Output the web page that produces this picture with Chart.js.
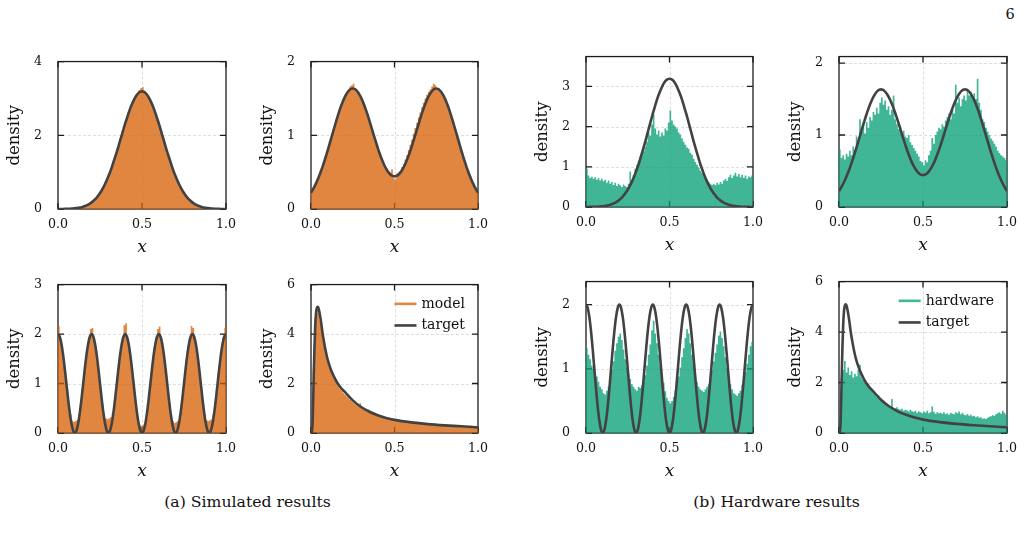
<!DOCTYPE html>
<html><head><meta charset="utf-8">
<script src="https://cdn.jsdelivr.net/npm/chart.js@4/dist/chart.umd.min.js"></script>
<style>
html,body{margin:0;padding:0;background:#fff;}
body{width:1026px;height:535px;position:relative;overflow:hidden;font-family:"DejaVu Serif",serif;color:#111;}
canvas{position:absolute;}
.cap{position:absolute;font-size:15.7px;transform:translate(-50%,-50%);white-space:nowrap;}
</style></head><body>
<div class="cap" style="left:247.5px;top:501px">(a) Simulated results</div>
<div class="cap" style="left:776.5px;top:501px">(b) Hardware results</div>
<div class="cap" style="left:1010px;top:14px;font-size:14.5px">6</div>
<script>
// ---------- data ----------
const xGrid = [0,0.01,0.02,0.03,0.04,0.05,0.06,0.07,0.08,0.09,0.1,0.11,0.12,0.13,0.14,0.15,0.16,0.17,0.18,0.19,0.2,0.21,0.22,0.23,0.24,0.25,0.26,0.27,0.28,0.29,0.3,0.31,0.32,0.33,0.34,0.35,0.36,0.37,0.38,0.39,0.4,0.41,0.42,0.43,0.44,0.45,0.46,0.47,0.48,0.49,0.5,0.51,0.52,0.53,0.54,0.55,0.56,0.57,0.58,0.59,0.6,0.61,0.62,0.63,0.64,0.65,0.66,0.67,0.68,0.69,0.7,0.71,0.72,0.73,0.74,0.75,0.76,0.77,0.78,0.79,0.8,0.81,0.82,0.83,0.84,0.85,0.86,0.87,0.88,0.89,0.9,0.91,0.92,0.93,0.94,0.95,0.96,0.97,0.98,0.99,1];

const gaussTarget = [0.001,0.001,0.002,0.002,0.003,0.005,0.006,0.008,0.011,0.015,0.019,0.025,0.031,0.040,0.050,0.063,0.079,0.098,0.120,0.147,0.179,0.216,0.260,0.310,0.367,0.432,0.505,0.587,0.678,0.778,0.887,1.00,1.13,1.27,1.41,1.55,1.70,1.86,2.01,2.17,2.32,2.46,2.60,2.73,2.84,2.94,3.03,3.10,3.15,3.18,3.19,3.18,3.15,3.10,3.03,2.94,2.84,2.73,2.60,2.46,2.32,2.17,2.01,1.86,1.70,1.55,1.41,1.27,1.13,1.00,0.887,0.778,0.678,0.587,0.505,0.432,0.367,0.310,0.260,0.216,0.179,0.147,0.120,0.098,0.079,0.063,0.050,0.040,0.031,0.025,0.019,0.015,0.011,0.008,0.006,0.005,0.003,0.002,0.002,0.001,0.001];

const bimodalTarget = [0.221,0.259,0.301,0.347,0.399,0.454,0.515,0.579,0.648,0.720,0.795,0.873,0.951,1.031,1.109,1.186,1.261,1.331,1.397,1.456,1.508,1.552,1.588,1.613,1.629,1.634,1.629,1.613,1.588,1.552,1.510,1.459,1.401,1.337,1.269,1.196,1.122,1.047,0.971,0.899,0.827,0.760,0.698,0.641,0.590,0.546,0.510,0.480,0.459,0.447,0.442,0.447,0.459,0.480,0.510,0.546,0.590,0.641,0.698,0.760,0.827,0.899,0.971,1.047,1.122,1.196,1.269,1.337,1.401,1.459,1.510,1.552,1.588,1.613,1.629,1.634,1.629,1.613,1.588,1.552,1.508,1.456,1.397,1.331,1.261,1.186,1.109,1.031,0.951,0.873,0.795,0.720,0.648,0.579,0.515,0.454,0.399,0.347,0.301,0.259,0.221];

const cosineTarget = [2,1.951,1.809,1.588,1.309,1,0.691,0.412,0.191,0.049,0,0.049,0.191,0.412,0.691,1,1.309,1.588,1.809,1.951,
2,1.951,1.809,1.588,1.309,1,0.691,0.412,0.191,0.049,0,0.049,0.191,0.412,0.691,1,1.309,1.588,1.809,1.951,
2,1.951,1.809,1.588,1.309,1,0.691,0.412,0.191,0.049,0,0.049,0.191,0.412,0.691,1,1.309,1.588,1.809,1.951,
2,1.951,1.809,1.588,1.309,1,0.691,0.412,0.191,0.049,0,0.049,0.191,0.412,0.691,1,1.309,1.588,1.809,1.951,
2,1.951,1.809,1.588,1.309,1,0.691,0.412,0.191,0.049,0,0.049,0.191,0.412,0.691,1,1.309,1.588,1.809,1.951,2];

const skewX = [0,0.005,0.01,0.015,0.02,0.025,0.03,0.035,0.04,0.045,0.05,0.06,0.07,0.08,0.09,0.10,0.12,0.14,0.16,0.18,0.20,0.25,0.30,0.35,0.40,0.45,0.50,0.60,0.70,0.80,0.90,1.00];
const skewTarget = [0,0.05,0.5,1.9,3.3,4.3,4.85,5.05,5.1,5.05,4.9,4.5,4.0,3.6,3.25,2.96,2.55,2.25,2.0,1.82,1.68,1.32,1.05,0.86,0.72,0.61,0.53,0.43,0.36,0.31,0.27,0.225];

const modelGauss = [0.00,0.00,0.00,0.00,0.00,0.01,0.01,0.01,0.01,0.02,
0.02,0.03,0.04,0.04,0.06,0.07,0.09,0.11,0.13,0.16,
0.20,0.24,0.29,0.34,0.40,0.47,0.55,0.63,0.73,0.83,
0.94,1.07,1.20,1.34,1.48,1.63,1.78,1.94,2.09,2.25,
2.38,2.53,2.66,2.80,2.88,3.00,3.05,3.15,3.22,3.28,
3.30,3.20,3.16,3.08,2.99,2.90,2.78,2.66,2.52,2.40,
2.24,2.10,1.94,1.78,1.63,1.48,1.34,1.20,1.07,0.94,
0.83,0.73,0.63,0.55,0.47,0.40,0.34,0.29,0.24,0.20,
0.16,0.13,0.11,0.09,0.07,0.06,0.04,0.04,0.03,0.02,
0.02,0.01,0.01,0.01,0.01,0.00,0.00,0.00,0.00,0.00];

const modelBimodal = [0.25,0.29,0.33,0.38,0.43,0.49,0.55,0.62,0.69,0.76,
0.84,0.92,1.00,1.08,1.16,1.23,1.30,1.37,1.43,1.49,
1.54,1.58,1.62,1.66,1.68,1.70,1.64,1.62,1.58,1.55,
1.50,1.44,1.38,1.31,1.24,1.17,1.09,1.01,0.94,0.87,
0.80,0.74,0.68,0.63,0.58,0.55,0.52,0.50,0.54,0.42,
0.40,0.48,0.50,0.52,0.57,0.61,0.67,0.73,0.80,0.87,
0.94,1.02,1.10,1.17,1.24,1.31,1.38,1.44,1.50,1.55,
1.59,1.62,1.66,1.70,1.68,1.64,1.63,1.60,1.56,1.52,
1.48,1.42,1.36,1.29,1.22,1.15,1.07,0.99,0.91,0.84,
0.76,0.69,0.62,0.56,0.50,0.44,0.39,0.34,0.30,0.26];

const modelCosine = [2.15,1.92,1.72,1.46,1.16,0.87,0.60,0.38,0.25,0.22,0.24,0.27,0.38,0.60,0.88,1.16,1.46,1.72,1.94,2.10,
2.12,1.93,1.70,1.44,1.15,0.86,0.60,0.40,0.30,0.28,0.30,0.32,0.40,0.58,0.86,1.16,1.45,1.70,1.92,2.18,
2.22,1.90,1.70,1.45,1.15,0.84,0.56,0.32,0.17,0.14,0.15,0.18,0.30,0.55,0.84,1.15,1.46,1.72,1.93,2.10,
2.15,1.92,1.71,1.45,1.16,0.86,0.58,0.36,0.24,0.20,0.22,0.25,0.36,0.58,0.86,1.16,1.46,1.72,1.92,2.16,
2.12,1.90,1.70,1.45,1.16,0.86,0.58,0.37,0.26,0.24,0.26,0.28,0.38,0.60,0.88,1.17,1.47,1.73,1.94,2.12];

const modelSkew = [0.30,2.60,4.50,4.95,4.85,4.55,4.15,3.80,3.45,3.15,
2.88,2.66,2.48,2.30,2.15,2.02,1.90,1.79,1.70,1.62,
1.55,1.48,1.40,1.33,1.28,1.22,1.16,1.12,1.08,1.20,
1.02,0.98,0.95,0.92,0.95,0.86,0.84,0.80,0.77,0.74,
0.72,0.70,0.72,0.66,0.64,0.62,0.60,0.58,0.57,0.55,
0.54,0.53,0.52,0.50,0.49,0.48,0.47,0.46,0.45,0.44,
0.43,0.42,0.41,0.41,0.40,0.39,0.38,0.40,0.37,0.39,
0.36,0.37,0.35,0.34,0.36,0.33,0.33,0.32,0.32,0.31,
0.31,0.30,0.30,0.29,0.30,0.28,0.28,0.27,0.28,0.27,
0.26,0.26,0.28,0.25,0.25,0.30,0.24,0.26,0.28,0.30];

const hwGauss = [0.95,0.78,0.72,0.75,0.70,0.74,0.68,0.72,0.66,0.70,
0.64,0.68,0.60,0.66,0.58,0.62,0.55,0.60,0.52,0.58,
0.54,0.50,0.56,0.52,0.50,0.58,0.88,0.62,0.80,0.95,
1.05,1.15,1.25,1.30,1.38,1.50,1.62,1.85,1.78,2.05,
2.30,1.95,1.80,1.90,1.75,1.85,1.78,1.95,1.90,2.10,
2.40,2.15,2.05,2.00,1.95,1.85,1.80,1.70,1.62,1.55,
1.48,1.45,1.35,1.30,1.20,1.12,1.05,0.98,0.90,0.85,
0.80,0.72,0.68,0.62,0.58,0.55,0.58,0.54,0.60,0.56,
0.62,0.58,0.66,0.70,0.65,0.74,0.80,0.72,0.78,0.85,
0.76,0.82,0.74,0.80,0.72,0.78,0.70,0.76,0.74,0.78];

const hwBimodal = [0.80,0.68,0.72,0.66,0.74,0.70,0.78,0.72,0.84,0.80,
0.98,0.92,1.22,1.05,1.15,1.02,1.18,1.10,1.25,1.20,
1.32,1.28,1.38,1.30,1.45,1.52,1.42,1.48,1.35,1.40,
1.28,1.35,1.55,1.22,1.15,1.08,1.12,1.02,1.06,0.98,
0.96,1.00,0.90,0.86,0.82,0.78,0.74,0.70,0.64,0.62,
0.58,0.65,0.62,0.72,0.78,0.96,0.88,1.00,1.05,1.10,
1.08,1.15,1.12,1.20,1.25,1.30,1.22,1.35,1.30,1.70,
1.45,1.52,1.40,1.50,1.55,1.48,1.62,1.55,1.60,1.52,
1.58,1.50,1.78,1.45,1.35,1.22,1.18,1.10,1.05,1.00,
0.95,0.92,0.88,0.84,0.78,0.75,0.72,0.70,0.68,0.65];

const hwCosine = [1.32,1.22,1.15,1.05,1.00,0.95,0.88,0.80,0.72,0.68,
0.62,0.60,0.66,0.72,0.85,0.98,1.12,1.28,1.40,1.50,
1.55,1.45,1.30,1.15,1.02,0.92,0.84,0.76,0.72,0.68,
0.66,0.72,0.70,0.74,0.80,0.90,1.05,1.22,1.38,1.60,
1.75,1.55,1.40,1.22,1.05,0.92,0.78,0.65,0.55,0.50,
0.46,0.50,0.56,0.66,0.78,0.88,1.02,1.18,1.32,1.48,
1.62,1.55,1.40,1.22,1.05,0.92,0.80,0.72,0.68,0.66,
0.64,0.68,0.72,0.76,0.85,0.98,1.12,1.25,1.38,1.52,
1.58,1.48,1.35,1.18,1.02,0.88,0.76,0.68,0.62,0.60,
0.58,0.62,0.66,0.75,0.85,0.95,1.08,1.22,1.35,1.42];

const hwSkew = [0.60,2.20,2.50,2.85,2.40,2.60,2.30,2.45,2.20,2.35,
2.25,2.50,2.70,2.20,2.10,2.00,1.90,1.95,1.75,1.70,
1.60,1.55,1.45,1.50,1.38,1.30,1.28,1.20,1.15,1.10,
1.05,1.35,1.00,0.98,1.02,0.95,0.92,0.96,0.88,0.92,
0.90,0.85,0.92,0.86,0.84,0.88,0.80,0.86,0.82,0.78,
0.85,0.80,0.88,0.78,0.82,1.05,0.84,0.76,0.82,0.78,
0.80,0.76,0.82,0.74,0.78,0.72,0.80,0.76,0.74,0.82,
0.78,0.85,0.74,0.80,0.72,0.70,0.75,0.68,0.72,0.66,
0.68,0.62,0.66,0.60,0.62,0.56,0.58,0.55,0.60,0.64,
0.66,0.70,0.68,0.74,0.78,0.82,0.76,0.88,0.80,0.72];

const xTickLabels = ['0.0','0.5','1.0'];

// ---------- styling ----------
const FONT = 'DejaVu Serif';
const ORANGE = 'rgba(213,94,0,0.75)';
const GREEN = 'rgba(2,158,115,0.75)';
const LINE = '#424242';

const framePlugin = {
  id: 'frame',
  beforeDatasetsDraw(chart) {
    const {ctx, chartArea: a, scales: {x, y}} = chart;
    ctx.save();
    ctx.strokeStyle = '#d6d6d6'; ctx.lineWidth = 0.8; ctx.setLineDash([3, 2]);
    x.ticks.forEach(t => {
      if (t.value > x.min + 1e-9 && t.value < x.max - 1e-9) {
        const px = Math.round(x.getPixelForValue(t.value)) + 0.5;
        ctx.beginPath(); ctx.moveTo(px, a.top); ctx.lineTo(px, a.bottom); ctx.stroke();
      }
    });
    y.ticks.forEach(t => {
      if (t.value > y.min + 1e-9 && t.value < y.max - 1e-9) {
        const py = Math.round(y.getPixelForValue(t.value)) + 0.5;
        ctx.beginPath(); ctx.moveTo(a.left, py); ctx.lineTo(a.right, py); ctx.stroke();
      }
    });
    ctx.setLineDash([]);
    ctx.strokeStyle = '#1c1c1c'; ctx.lineWidth = 1.3;
    ctx.strokeRect(a.left, a.top, a.width, a.height);
    const L = 6;
    ctx.beginPath();
    x.ticks.forEach(t => {
      const px = x.getPixelForValue(t.value);
      ctx.moveTo(px, a.bottom); ctx.lineTo(px, a.bottom - L);
      ctx.moveTo(px, a.top); ctx.lineTo(px, a.top + L);
    });
    y.ticks.forEach(t => {
      const py = y.getPixelForValue(t.value);
      ctx.moveTo(a.left, py); ctx.lineTo(a.left + L, py);
      ctx.moveTo(a.right, py); ctx.lineTo(a.right - L, py);
    });
    ctx.stroke();
    ctx.restore();
  }
};

const innerLegend = {
  id: 'innerLegend',
  afterDatasetsDraw(chart, args, opts) {
    if (!opts || !opts.show) return;
    const {ctx, chartArea: a} = chart;
    const ds = chart.data.datasets;
    const items = [ {text: ds[1].label, color: ds[1].backgroundColor}, {text: ds[0].label, color: ds[0].borderColor} ];
    ctx.save();
    ctx.font = '14px "' + FONT + '"';
    const tw = Math.max(...items.map(it => ctx.measureText(it.text).width));
    const tx = a.right - 13 - tw;
    items.forEach((it, k) => {
      const yy = a.top + 19.3 + k * 21.6;
      ctx.strokeStyle = it.color; ctx.lineWidth = 2.6;
      ctx.beginPath(); ctx.moveTo(tx - 27, yy); ctx.lineTo(tx - 5, yy); ctx.stroke();
      ctx.fillStyle = '#111'; ctx.textBaseline = 'middle'; ctx.textAlign = 'left';
      ctx.fillText(it.text, tx, yy);
    });
    ctx.restore();
  }
};

function histPoints(vals) {
  const pts = vals.map((v, i) => ({x: xGrid[i], y: v}));
  pts.push({x: xGrid[vals.length], y: vals[vals.length - 1]});
  return pts;
}
function linePoints(xs, ys) { return ys.map((v, i) => ({x: xs[i], y: v})); }

const panels = [
  {box:[58,60,168,149],  hist:modelGauss,   histLabel:'model',    color:ORANGE, tx:xGrid, ty:gaussTarget,   ymax:4,    step:2, legend:false},
  {box:[311,60,167,149], hist:modelBimodal, histLabel:'model',    color:ORANGE, tx:xGrid, ty:bimodalTarget, ymax:2,    step:1, legend:false},
  {box:[586,55,167,152], hist:hwGauss,      histLabel:'hardware', color:GREEN,  tx:xGrid, ty:gaussTarget,   ymax:3.74, step:1, legend:false},
  {box:[839,55,168,152], hist:hwBimodal,    histLabel:'hardware', color:GREEN,  tx:xGrid, ty:bimodalTarget, ymax:2.09, step:1, legend:false},
  {box:[58,283,168,150], hist:modelCosine,  histLabel:'model',    color:ORANGE, tx:xGrid, ty:cosineTarget,  ymax:3,    step:1, legend:false},
  {box:[311,283,167,150],hist:modelSkew,    histLabel:'model',    color:ORANGE, tx:skewX, ty:skewTarget,    ymax:6,    step:2, legend:true},
  {box:[586,280,167,153],hist:hwCosine,     histLabel:'hardware', color:GREEN,  tx:xGrid, ty:cosineTarget,  ymax:2.36, step:1, legend:false},
  {box:[839,280,168,153],hist:hwSkew,       histLabel:'hardware', color:GREEN,  tx:skewX, ty:skewTarget,    ymax:6,    step:2, legend:true},
];

const PL = 58, PT = 14, PR = 16, PB = 52;
panels.forEach(p => {
  const [bl, bt, bw, bh] = p.box;
  const cv = document.createElement('canvas');
  cv.width = bw + PL + PR; cv.height = bh + PT + PB;
  cv.style.left = (bl - PL) + 'px'; cv.style.top = (bt - PT) + 'px';
  cv.style.width = cv.width + 'px'; cv.style.height = cv.height + 'px';
  document.body.appendChild(cv);
  new Chart(cv, {
    type: 'line',
    data: {
      datasets: [
        {label: 'target', data: linePoints(p.tx, p.ty), borderColor: LINE, borderWidth: 2.6,
         pointRadius: 0, fill: false, cubicInterpolationMode: 'monotone', order: 0},
        {label: p.histLabel, data: histPoints(p.hist), stepped: true, fill: 'origin',
         backgroundColor: p.color, borderColor: 'rgba(0,0,0,0)', borderWidth: 0, pointRadius: 0, order: 1}
      ]
    },
    options: {
      responsive: false, animation: false, devicePixelRatio: 1, events: [],
      layout: {padding: {left: 0, top: PT, right: PR, bottom: 0}},
      plugins: {legend: {display: false}, tooltip: {enabled: false}, innerLegend: {show: p.legend}},
      scales: {
        x: {type: 'linear', min: 0, max: 1,
            grid: {display: false}, border: {display: false},
            ticks: {stepSize: 0.5, includeBounds: false, padding: 0, maxRotation: 0, color: '#111',
                    font: {family: FONT, size: 12.6},
                    callback: (v) => xTickLabels[Math.round(v * 2)]},
            title: {display: true, text: 'x', color: '#111', font: {family: FONT, size: 17, style: 'italic'},
                    padding: {top: 0, bottom: 3}},
            afterFit(s) { s.height = PB; }},
        y: {type: 'linear', min: 0, max: p.ymax,
            grid: {display: false}, border: {display: false},
            ticks: {stepSize: p.step, includeBounds: false, padding: 8, color: '#111',
                    font: {family: FONT, size: 12.6}, callback: (v) => String(Math.round(v))},
            title: {display: true, text: 'density', color: '#111', font: {family: FONT, size: 16.5},
                    padding: {top: 5, bottom: 0}},
            afterFit(s) { s.width = PL; }}
      }
    },
    plugins: [framePlugin, innerLegend]
  });
});
</script>
</body></html>
